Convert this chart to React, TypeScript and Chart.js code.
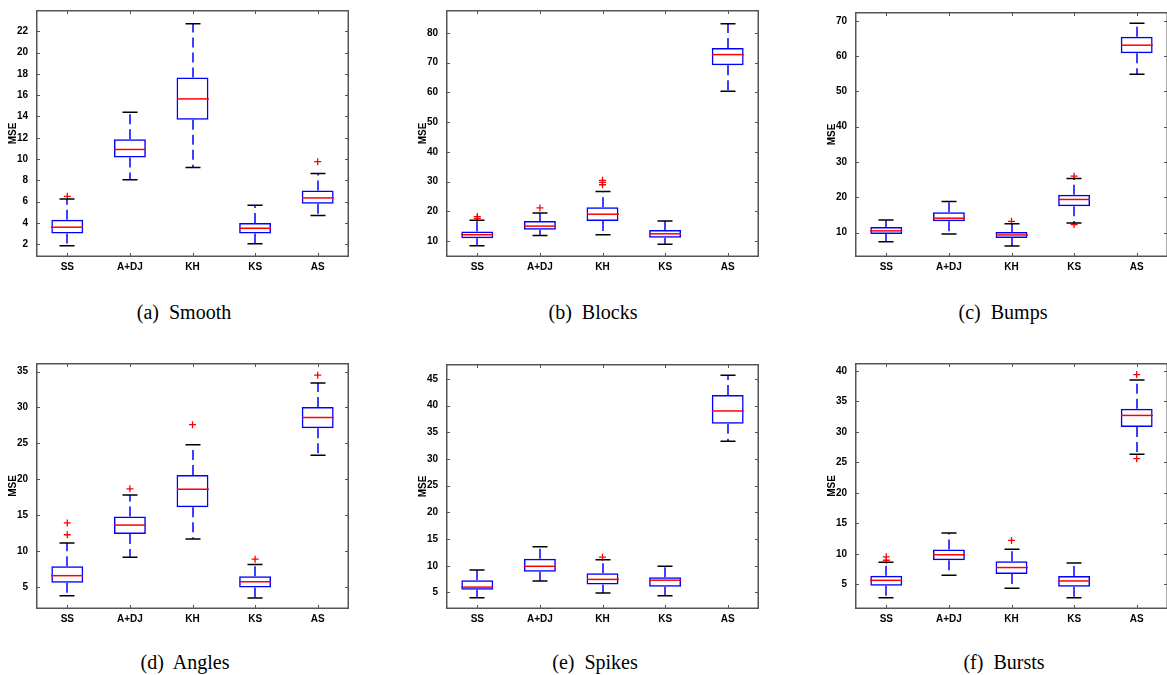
import React, { useEffect, useRef } from "react";
import { Chart, registerables } from "chart.js";

Chart.register(...registerables);

const categories = ["SS", "A+DJ", "KH", "KS", "AS"];

// (a) Smooth
const smoothLow = [1.85, 8.05, 9.2, 2.05, 4.7];
const smoothQ1 = [3.0, 10.15, 13.7, 3.0, 5.8];
const smoothMed = [3.6, 10.9, 15.65, 3.5, 6.35];
const smoothQ3 = [4.3, 11.85, 17.65, 4.0, 7.05];
const smoothHigh = [6.25, 14.4, 22.7, 5.65, 8.65];
const smoothOut = [[6.5], [], [], [], [9.75]];
const smoothTicks = [2, 4, 6, 8, 10, 12, 14, 16, 18, 20, 22];
const smoothRange = [0.8, 24];

// (b) Blocks
const blocksLow = [8.4, 11.8, 12.1, 8.9, 60.4];
const blocksQ1 = [10.9, 13.8, 16.7, 11.1, 69.1];
const blocksMed = [12.1, 15.0, 19.0, 12.4, 72.7];
const blocksQ3 = [13.2, 16.7, 21.3, 13.7, 74.9];
const blocksHigh = [17.0, 19.4, 26.6, 16.7, 83.1];
const blocksOut = [[17.6, 18.2], [21.1], [28.9, 29.7, 30.4], [], []];
const blocksTicks = [10, 20, 30, 40, 50, 60, 70, 80];
const blocksRange = [4.6, 87.7];

// (c) Bumps
const bumpsLow = [7.4, 9.6, 6.2, 12.7, 54.9];
const bumpsQ1 = [9.6, 13.2, 8.5, 17.5, 60.8];
const bumpsMed = [10.5, 14.1, 9.35, 19.4, 63.1];
const bumpsQ3 = [11.6, 15.75, 10.2, 20.75, 65.5];
const bumpsHigh = [13.6, 18.8, 12.5, 25.35, 69.3];
const bumpsOut = [[], [], [13.2], [26.0, 12.3], []];
const bumpsTicks = [10, 20, 30, 40, 50, 60, 70];
const bumpsRange = [3.1, 72.5];

// (d) Angles
const anglesLow = [3.75, 9.1, 11.65, 3.45, 23.35];
const anglesQ1 = [5.55, 12.35, 16.1, 4.9, 27.1];
const anglesMed = [6.55, 13.6, 18.6, 5.7, 28.6];
const anglesQ3 = [7.85, 14.8, 20.6, 6.45, 30.05];
const anglesHigh = [11.1, 17.8, 24.8, 8.1, 33.4];
const anglesOut = [[12.25, 13.9], [18.65], [27.6], [8.85], [34.5]];
const anglesTicks = [5, 10, 15, 20, 25, 30, 35];
const anglesRange = [1.9, 36.2];

// (e) Spikes
const spikesLow = [4.0, 7.15, 4.9, 4.4, 33.35];
const spikesQ1 = [5.5, 8.9, 6.5, 6.05, 36.6];
const spikesMed = [6.0, 9.9, 7.45, 7.3, 39.0];
const spikesQ3 = [7.3, 11.3, 8.6, 7.85, 42.0];
const spikesHigh = [9.2, 13.55, 11.15, 9.9, 45.7];
const spikesOut = [[], [], [11.6], [], []];
const spikesTicks = [5, 10, 15, 20, 25, 30, 35, 40, 45];
const spikesRange = [1.9, 47.8];

// (f) Bursts
const burstsLow = [2.8, 6.5, 4.35, 2.8, 26.35];
const burstsQ1 = [4.75, 8.95, 6.7, 4.6, 30.8];
const burstsMed = [5.65, 9.85, 7.75, 5.55, 32.7];
const burstsQ3 = [6.4, 10.7, 8.8, 6.35, 33.8];
const burstsHigh = [8.6, 13.4, 10.75, 8.5, 38.5];
const burstsOut = [[8.95, 9.5], [], [12.2], [], [39.4, 25.6]];
const burstsTicks = [5, 10, 15, 20, 25, 30, 35, 40];
const burstsRange = [0.95, 41.3];

const yTitle = "MSE";

type Panel = {
  caption: string;
  low: number[];
  q1: number[];
  med: number[];
  q3: number[];
  high: number[];
  out: number[][];
  ticks: number[];
  range: number[];
};

const panels: Panel[] = [
  { caption: "(a)\u00a0 Smooth", low: smoothLow, q1: smoothQ1, med: smoothMed, q3: smoothQ3, high: smoothHigh, out: smoothOut, ticks: smoothTicks, range: smoothRange },
  { caption: "(b)\u00a0 Blocks", low: blocksLow, q1: blocksQ1, med: blocksMed, q3: blocksQ3, high: blocksHigh, out: blocksOut, ticks: blocksTicks, range: blocksRange },
  { caption: "(c)\u00a0 Bumps", low: bumpsLow, q1: bumpsQ1, med: bumpsMed, q3: bumpsQ3, high: bumpsHigh, out: bumpsOut, ticks: bumpsTicks, range: bumpsRange },
  { caption: "(d)\u00a0 Angles", low: anglesLow, q1: anglesQ1, med: anglesMed, q3: anglesQ3, high: anglesHigh, out: anglesOut, ticks: anglesTicks, range: anglesRange },
  { caption: "(e)\u00a0 Spikes", low: spikesLow, q1: spikesQ1, med: spikesMed, q3: spikesQ3, high: spikesHigh, out: spikesOut, ticks: spikesTicks, range: spikesRange },
  { caption: "(f)\u00a0 Bursts", low: burstsLow, q1: burstsQ1, med: burstsMed, q3: burstsQ3, high: burstsHigh, out: burstsOut, ticks: burstsTicks, range: burstsRange },
];

// layout: plot frame rectangles in page pixels, and caption centres
const frames = [
  { x: 36, y: 6, w: 313, h: 251 },
  { x: 446, y: 6, w: 313, h: 251 },
  { x: 855, y: 8, w: 313, h: 249 },
  { x: 36, y: 359, w: 313, h: 250 },
  { x: 446, y: 360, w: 313, h: 249 },
  { x: 855, y: 359, w: 313, h: 250 },
];
const captionPos = [
  { x: 184, y: 312 },
  { x: 593, y: 312 },
  { x: 1003, y: 312 },
  { x: 185, y: 662 },
  { x: 595, y: 662 },
  { x: 1004, y: 662 },
];

const PAD_L = 40;
const PAD_T = 10;
const PAD_R = 10;
const PAD_B = 25;
const LINE_W = 1.5;
const axisFont = { family: "'Liberation Sans', Arial, sans-serif", size: 10, weight: "bold" as const };

function BoxChart({ panel, frame }: { panel: Panel; frame: { x: number; y: number; w: number; h: number } }) {
  const ref = useRef<HTMLCanvasElement | null>(null);
  const width = PAD_L + frame.w + PAD_R;
  const height = PAD_T + frame.h + PAD_B;

  useEffect(() => {
    if (!ref.current) return;
    const outliers: { x: string; y: number }[] = [];
    panel.out.forEach((vals, i) => vals.forEach((v) => outliers.push({ x: categories[i], y: v })));

    const parts = {
      id: "boxParts",
      afterDatasetsDraw(chart: any) {
        const ctx = chart.ctx;
        const xs = chart.scales.x;
        const ys = chart.scales.y;
        const step = xs.getPixelForValue(1) - xs.getPixelForValue(0);
        const half = step * 0.255;
        const capHalf = step * 0.12;
        ctx.save();
        ctx.lineWidth = LINE_W;
        categories.forEach((_, i) => {
          const cx = Math.round(xs.getPixelForValue(i));
          const yLo = ys.getPixelForValue(panel.low[i]);
          const yQ1 = ys.getPixelForValue(panel.q1[i]);
          const yMed = ys.getPixelForValue(panel.med[i]);
          const yQ3 = ys.getPixelForValue(panel.q3[i]);
          const yHi = ys.getPixelForValue(panel.high[i]);
          // whiskers (dashed, blue)
          ctx.strokeStyle = "#0000ff";
          ctx.setLineDash([10, 5]);
          ctx.beginPath();
          ctx.moveTo(cx, yQ3);
          ctx.lineTo(cx, yHi);
          ctx.stroke();
          ctx.beginPath();
          ctx.moveTo(cx, yQ1);
          ctx.lineTo(cx, yLo);
          ctx.stroke();
          ctx.setLineDash([]);
          // caps (black)
          ctx.strokeStyle = "#000000";
          ctx.beginPath();
          ctx.moveTo(cx - capHalf, yHi);
          ctx.lineTo(cx + capHalf, yHi);
          ctx.moveTo(cx - capHalf, yLo);
          ctx.lineTo(cx + capHalf, yLo);
          ctx.stroke();
          // median (red)
          ctx.strokeStyle = "#ff0000";
          ctx.beginPath();
          ctx.moveTo(cx - half, yMed);
          ctx.lineTo(cx + half, yMed);
          ctx.stroke();
        });
        ctx.restore();
      },
      afterDraw(chart: any) {
        const ctx = chart.ctx;
        const { left, right, top, bottom } = chart.chartArea;
        const xs = chart.scales.x;
        const ys = chart.scales.y;
        const tl = 4;
        ctx.save();
        ctx.strokeStyle = "#555555";
        ctx.lineWidth = 1.5;
        ctx.strokeRect(left + 0.75, top + 0.75, right - left - 1.5, bottom - top - 1.5);
        ctx.lineWidth = 1;
        ctx.beginPath();
        panel.ticks.forEach((v) => {
          const py = Math.round(ys.getPixelForValue(v)) + 0.5;
          ctx.moveTo(left, py);
          ctx.lineTo(left + tl, py);
          ctx.moveTo(right - tl, py);
          ctx.lineTo(right, py);
        });
        categories.forEach((_, i) => {
          const px = Math.round(xs.getPixelForValue(i)) + 0.5;
          ctx.moveTo(px, bottom);
          ctx.lineTo(px, bottom - tl);
          ctx.moveTo(px, top);
          ctx.lineTo(px, top + tl);
        });
        ctx.stroke();
        ctx.restore();
      },
    };

    const chart = new Chart(ref.current, {
      type: "bar",
      data: {
        labels: categories,
        datasets: [
          {
            type: "bar",
            data: panel.q1.map((v, i) => [v, panel.q3[i]]) as any,
            backgroundColor: "rgba(0,0,0,0)",
            borderColor: "#0000ff",
            borderWidth: LINE_W,
            borderSkipped: false,
            barPercentage: 0.51,
            categoryPercentage: 1,
          } as any,
          {
            type: "scatter",
            data: outliers as any,
            pointStyle: "cross",
            radius: 3.5,
            borderColor: "#ff0000",
            backgroundColor: "#ff0000",
            borderWidth: 1.3,
          } as any,
        ],
      },
      options: {
        responsive: false,
        animation: false,
        devicePixelRatio: 1,
        layout: { padding: { top: PAD_T, right: PAD_R, left: 0, bottom: 0 } },
        plugins: { legend: { display: false }, tooltip: { enabled: false } },
        scales: {
          x: {
            type: "category",
            offset: true,
            grid: { display: false, drawTicks: false },
            border: { display: false },
            ticks: { color: "#000", font: axisFont, padding: 4, maxRotation: 0, autoSkip: false },
            afterFit: (s: any) => {
              s.height = PAD_B;
            },
          },
          y: {
            type: "linear",
            min: panel.range[0],
            max: panel.range[1],
            grid: { display: false, drawTicks: false },
            border: { display: false },
            ticks: { color: "#000", font: axisFont, padding: 8 },
            afterBuildTicks: (s: any) => {
              s.ticks = panel.ticks.map((v) => ({ value: v }));
            },
            title: { display: true, text: yTitle, color: "#000", font: axisFont, padding: { top: 11, bottom: 0 } },
            afterFit: (s: any) => {
              s.width = PAD_L;
            },
          },
        },
      } as any,
      plugins: [parts as any],
    });
    return () => chart.destroy();
  }, [panel]);

  return (
    <canvas
      ref={ref}
      width={width}
      height={height}
      style={{ position: "absolute", left: frame.x - PAD_L, top: frame.y - PAD_T, width, height }}
    />
  );
}

export default function App() {
  return (
    <div
      style={{
        position: "fixed",
        left: 0,
        top: 0,
        width: 1167,
        height: 675,
        overflow: "hidden",
        background: "#ffffff",
      }}
    >
      {panels.map((p, i) => (
        <BoxChart key={i} panel={p} frame={frames[i]} />
      ))}
      {panels.map((p, i) => (
        <div
          key={"c" + i}
          style={{
            position: "absolute",
            left: captionPos[i].x - 150,
            top: captionPos[i].y - 13,
            width: 300,
            height: 26,
            lineHeight: "26px",
            textAlign: "center",
            fontFamily: "'Liberation Serif', 'Times New Roman', serif",
            fontSize: 20,
            color: "#000",
            whiteSpace: "pre",
          }}
        >
          {p.caption}
        </div>
      ))}
    </div>
  );
}
